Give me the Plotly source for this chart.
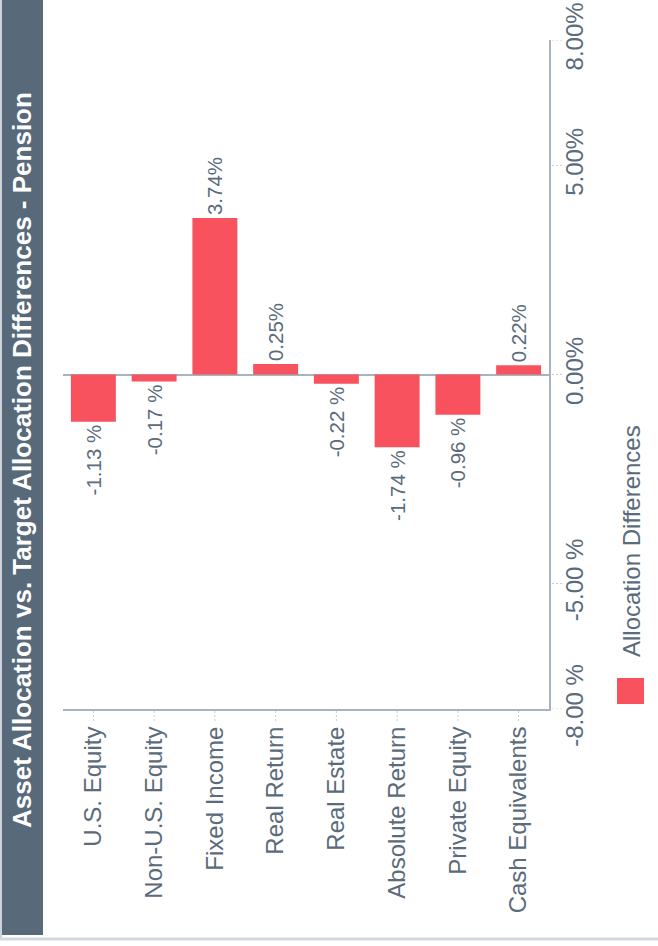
import plotly.graph_objects as go

# ---- data ----
categories = ["U.S. Equity", "Non-U.S. Equity", "Fixed Income", "Real Return",
              "Real Estate", "Absolute Return", "Private Equity", "Cash Equivalents"]
values = [-1.13, -0.17, 3.74, 0.25, -0.22, -1.74, -0.96, 0.22]
value_labels = ["-1.13 %", "-0.17 %", "3.74%", "0.25%", "-0.22 %", "-1.74 %", "-0.96 %", "0.22%"]
y_tick_vals = [-8, -5, 0, 5, 8]
y_tick_text = ["-8.00 %", "-5.00 %", "0.00%", "5.00%", "8.00%"]
series_name = "Allocation Differences"
title_text = "Asset Allocation vs. Target Allocation Differences - Pension"

# ---- style ----
W, H = 658, 946
ML, MR, MT, MB = 63, 109, 40, 237
PW, PH = W - ML - MR, H - MT - MB
BAR = "#F8525F"
TXT = "#5A6B7B"
AXIS = "#A7B3BF"
TICK = "#C9CDD2"
TITLE_BG = "#586A7A"
FONT = "Liberation Sans, Arial, sans-serif"


def px(x):
    return (x - ML) / PW


def py(y):
    return (H - MB - y) / PH


fig = go.Figure()
fig.add_trace(go.Bar(
    x=categories, y=values, name=series_name,
    marker=dict(color=BAR, line=dict(width=0)),
    text=value_labels, textposition="outside", textangle=-90,
    textfont=dict(size=20.5, color=TXT, family=FONT),
    constraintext="none", cliponaxis=False, hoverinfo="skip",
    showlegend=False,
))

fig.update_layout(
    width=W, height=H,
    margin=dict(l=ML, r=MR, t=MT, b=MB, autoexpand=False),
    paper_bgcolor="white", plot_bgcolor="white",
    font=dict(family=FONT, color=TXT),
    bargap=0.26,
    xaxis=dict(
        showgrid=False, showline=True, linecolor=AXIS, linewidth=2,
        ticks="outside", ticklen=6, tickcolor="rgba(0,0,0,0)", tickwidth=1,
        tickangle=-90, tickfont=dict(size=24, color=TXT), automargin=False,
        fixedrange=True,
    ),
    yaxis=dict(
        side="right", range=[-8, 8], showgrid=False,
        showline=True, linecolor=AXIS, linewidth=2,
        zeroline=True, zerolinecolor=AXIS, zerolinewidth=2,
        tickvals=y_tick_vals, ticktext=y_tick_text,
        ticks="outside", ticklen=3, tickcolor="rgba(0,0,0,0)", tickwidth=1,
        tickangle=-90, tickfont=dict(size=24, color=TXT), automargin=False,
        fixedrange=True,
    ),
)

shapes = [
    # title band
    dict(type="rect", xref="paper", yref="paper", x0=px(2), x1=px(43), y0=py(0), y1=py(935),
         fillcolor=TITLE_BG, line=dict(width=0), layer="below"),
    # light frame edges
    dict(type="line", xref="paper", yref="paper", x0=px(1), x1=px(1), y0=py(0), y1=py(939),
         line=dict(color="#CDD2D8", width=2)),
    dict(type="line", xref="paper", yref="paper", x0=px(0), x1=px(W), y0=py(939), y1=py(939),
         line=dict(color="#D3D8DF", width=3)),
    # legend swatch
    dict(type="rect", xref="paper", yref="paper", x0=px(617), x1=px(644), y0=py(704), y1=py(678),
         fillcolor=BAR, line=dict(width=0)),
]
# dotted tick marks
for c in categories:
    shapes.append(dict(type="line", xref="x", yref="paper", x0=c, x1=c, y0=py(711), y1=py(721),
                       line=dict(color=TICK, width=1, dash="2px,2px")))
for v in y_tick_vals:
    shapes.append(dict(type="line", xref="paper", yref="y", x0=px(552), x1=px(562), y0=v, y1=v,
                       line=dict(color=TICK, width=1, dash="2px,2px")))
fig.update_layout(shapes=shapes)

fig.add_annotation(
    text=f"<b>{title_text}</b>", xref="paper", yref="paper",
    x=px(22), y=py(460), textangle=-90, showarrow=False,
    font=dict(size=26, color="white", family=FONT),
    xanchor="center", yanchor="middle",
)
fig.add_annotation(
    text=series_name, xref="paper", yref="paper",
    x=px(631), y=py(541), textangle=-90, showarrow=False,
    font=dict(size=24, color=TXT, family=FONT),
    xanchor="center", yanchor="middle",
)

fig.write_html("out.html", config={"displayModeBar": False},
               post_script="document.body.style.margin='0';")
